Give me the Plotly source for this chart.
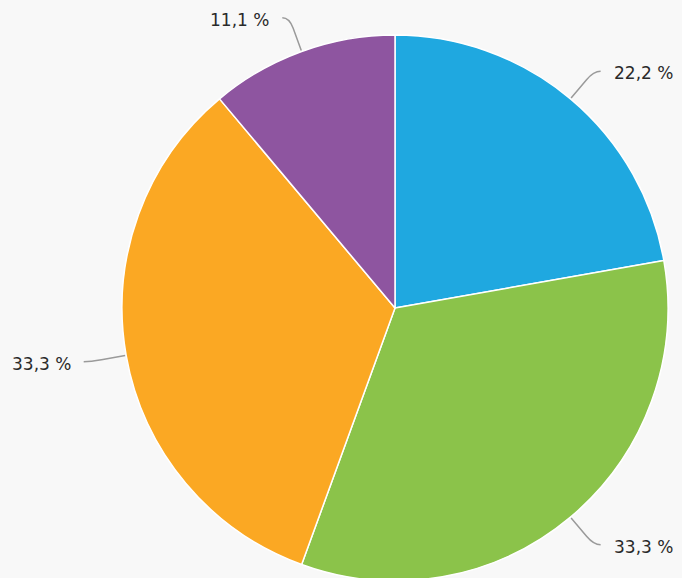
import math
import plotly.graph_objects as go

labels = ["A", "B", "C", "D"]
values = [2, 3, 3, 1]
colors = ["#1fa8e0", "#8bc34a", "#fba823", "#8e55a0"]
pct_text = ["22,2 %", "33,3 %", "33,3 %", "11,1 %"]

W, H = 682, 592
CX, CY, R = 395, 308, 273
BG = "#f8f8f8"

fig = go.Figure(go.Pie(
    labels=labels, values=values, sort=False, direction="clockwise", rotation=0,
    marker=dict(colors=colors, line=dict(color="white", width=1.5)),
    textinfo="none", hoverinfo="label+percent", showlegend=False,
    domain=dict(x=[(CX - R) / W, (CX + R) / W], y=[(H - CY - R) / H, (H - CY + R) / H]),
))

def px(x, y):
    return x / W, 1 - y / H

total = sum(values)
cum = 0
shapes, annotations = [], []
for v, t in zip(values, pct_text):
    mid = (cum + v / 2) / total * 2 * math.pi
    cum += v
    s, c = math.sin(mid), math.cos(mid)
    p0 = (CX + (R + 1) * s, CY - (R + 1) * c)
    p1 = (CX + (R + 25) * s, CY - (R + 25) * c)
    pc = (CX + (R + 36) * s, CY - (R + 36) * c)
    d = 1 if s >= 0 else -1
    p2 = (pc[0] + 7 * d, pc[1])
    pts = [px(*p) for p in (p0, p1, pc, p2)]
    path = "M {0[0]},{0[1]} L {1[0]},{1[1]} Q {2[0]},{2[1]} {3[0]},{3[1]}".format(*pts)
    shapes.append(dict(type="path", path=path, xref="paper", yref="paper",
                       line=dict(color="#9a9a9a", width=1.5)))
    ax, ay = px(p2[0] + 11 * d, p2[1] + 2)
    annotations.append(dict(x=ax, y=ay, xref="paper", yref="paper", text=t,
                            showarrow=False, xanchor="left" if d > 0 else "right",
                            yanchor="middle",
                            font=dict(family="DejaVu Sans", size=17, color="#2a2a2a")))

fig.update_layout(
    width=W, height=H, margin=dict(l=0, r=0, t=0, b=0),
    paper_bgcolor=BG, plot_bgcolor=BG,
    shapes=shapes, annotations=annotations,
)
fig.write_html("out.html", config={"displayModeBar": False},
               post_script="document.body.style.margin='0';document.body.style.background='%s';" % BG)
